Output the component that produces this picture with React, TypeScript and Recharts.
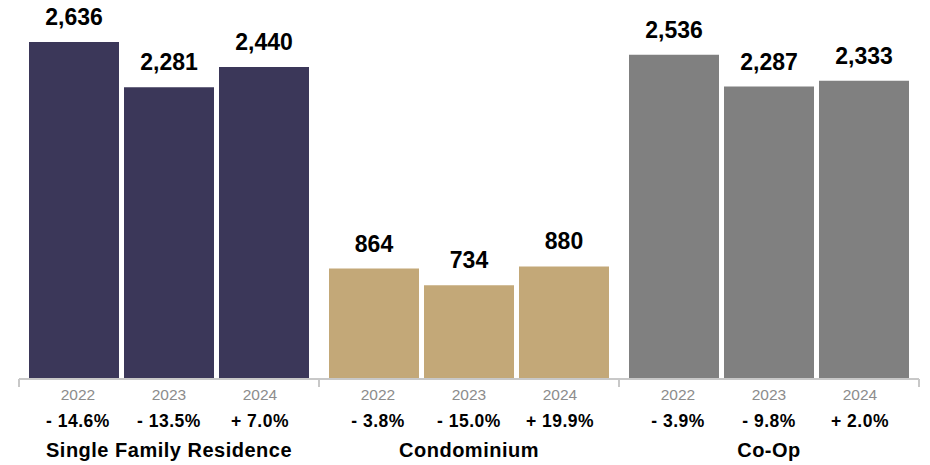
import { BarChart, Bar, XAxis, YAxis, Cell, LabelList } from 'recharts';

const groups = ['Single Family Residence', 'Condominium', 'Co-Op'];
const years = ['2022', '2023', '2024'];
const values2022 = [2636, 864, 2536];
const values2023 = [2281, 734, 2287];
const values2024 = [2440, 880, 2333];
const changes2022 = ['- 14.6%', '- 3.8%', '- 3.9%'];
const changes2023 = ['- 13.5%', '- 15.0%', '- 9.8%'];
const changes2024 = ['+ 7.0%', '+ 19.9%', '+ 2.0%'];
const groupColors = ['#3b3759', '#c3a878', '#808080'];

const FONT = '"Liberation Sans", Arial, Helvetica, sans-serif';
const HALF_BAND = 150;
const LABEL_OFFSETS = [-91, 0, 91];

const data = groups.map((g, i) => ({
  group: g,
  v2022: values2022[i],
  v2023: values2023[i],
  v2024: values2024[i],
  changes: [changes2022[i], changes2023[i], changes2024[i]],
}));

const seriesKeys = ['v2022', 'v2023', 'v2024'];

function GroupTick(props: any) {
  const { x, y, payload, index } = props;
  const row = data[index] ?? data.find((d) => d.group === payload.value);
  const last = index === groups.length - 1;
  return (
    <g>
      <line x1={x - HALF_BAND} y1={y} x2={x - HALF_BAND} y2={y + 8} stroke="#c8c8c8" strokeWidth={2} />
      {last && (
        <line x1={x + HALF_BAND} y1={y} x2={x + HALF_BAND} y2={y + 8} stroke="#c8c8c8" strokeWidth={2} />
      )}
      {years.map((yr, j) => (
        <text
          key={yr}
          x={x + LABEL_OFFSETS[j]}
          y={y + 21}
          textAnchor="middle"
          fontFamily={FONT}
          fontSize={15.5}
          fill="#8c8c8c"
        >
          {yr}
        </text>
      ))}
      {row.changes.map((c: string, j: number) => (
        <text
          key={j}
          x={x + LABEL_OFFSETS[j]}
          y={y + 48}
          textAnchor="middle"
          fontFamily={FONT}
          fontSize={17.5}
          fontWeight="bold"
          letterSpacing={0.5}
          fill="#000"
        >
          {c}
        </text>
      ))}
      <text
        x={x}
        y={y + 78}
        textAnchor="middle"
        fontFamily={FONT}
        fontSize={20}
        fontWeight="bold"
        letterSpacing={0.5}
        fill="#000"
      >
        {payload.value}
      </text>
    </g>
  );
}

export default function App() {
  return (
    <div style={{ position: 'absolute', left: 0, top: 0, width: 930, height: 465, background: '#fff' }}>
      <BarChart
        width={930}
        height={465}
        data={data}
        margin={{ top: 21, right: 11, bottom: 0, left: 19 }}
        barSize={90}
        barGap={5}
      >
        <XAxis
          dataKey="group"
          height={86}
          axisLine={{ stroke: '#c8c8c8', strokeWidth: 2 }}
          tickLine={false}
          tickSize={0}
          tickMargin={0}
          interval={0}
          tick={<GroupTick />}
        />
        <YAxis hide domain={[0, 2800]} />
        {seriesKeys.map((k) => (
          <Bar key={k} dataKey={k} isAnimationActive={false}>
            {data.map((d, i) => (
              <Cell key={d.group} fill={groupColors[i]} />
            ))}
            <LabelList
              dataKey={k}
              position="top"
              offset={17}
              fill="#000"
              fontFamily={FONT}
              fontSize={23}
              fontWeight="bold"
              formatter={(v: any) => Number(v).toLocaleString('en-US')}
            />
          </Bar>
        ))}
      </BarChart>
    </div>
  );
}
